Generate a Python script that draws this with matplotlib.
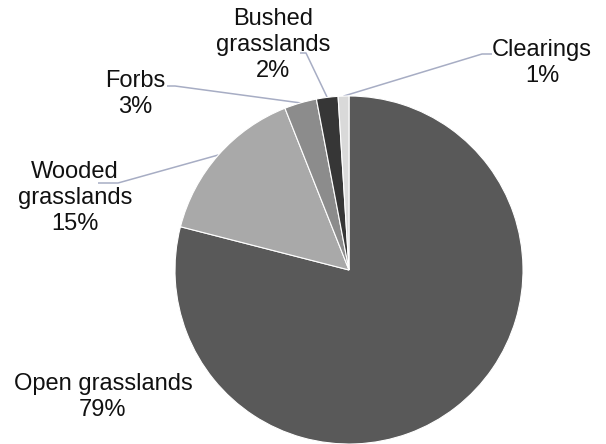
import numpy as np
import matplotlib.pyplot as plt

# Land-cover shares (%)
categories = ["Open grasslands", "Wooded\ngrasslands", "Forbs", "Bushed\ngrasslands", "Clearings"]
shares = [79, 15, 3, 2, 1]
colors = ["#595959", "#a9a9a9", "#8c8c8c", "#363636", "#d9d9d9"]

W, H = 606, 444
plt.rcParams["font.family"] = ["Liberation Sans", "DejaVu Sans"]

fig = plt.figure(figsize=(W / 100, H / 100), dpi=100)
ax = fig.add_axes([0, 0, 1, 1])


def pt(x, y):
    """Pixel position (origin top-left) -> data coordinates."""
    return x, H - y


cx, cy = pt(349, 270)
radius = 174

wedges, _ = ax.pie(
    shares, colors=colors, startangle=90, counterclock=False,
    center=(cx, cy), radius=radius, frame=True,
    wedgeprops=dict(edgecolor="white", linewidth=0.8),
)
ax.set_xlim(0, W)
ax.set_ylim(0, H)
ax.set_aspect("auto")
ax.axis("off")

# label block centres and leader-line elbows (pixel layout)
label_pos = [(103, 397), (75, 198), (135, 94), (273, 45), (542, 63)]
leader_elbows = [
    None,
    [(98, 183), (118, 183)],
    [(167, 86), (175, 86)],
    [(300, 53), (306, 53)],
    [(492, 54), (482, 54)],
]

line_color = "#a7adc4"
for wedge, name, share, (lx, ly), elbow in zip(wedges, categories, shares, label_pos, leader_elbows):
    ax.text(*pt(lx, ly), f"{name}\n{share}%", ha="center", va="center",
            multialignment="center", fontsize=17, color="#111111", linespacing=1.22)
    if elbow is None:
        continue
    mid = np.deg2rad((wedge.theta1 + wedge.theta2) / 2)
    ex, ey = cx + radius * np.cos(mid), cy + radius * np.sin(mid)
    xs = [pt(*p)[0] for p in elbow] + [ex]
    ys = [pt(*p)[1] for p in elbow] + [ey]
    ax.plot(xs, ys, color=line_color, lw=1.1, solid_capstyle="butt", zorder=0.5)

fig.savefig("out.png", dpi=100)
